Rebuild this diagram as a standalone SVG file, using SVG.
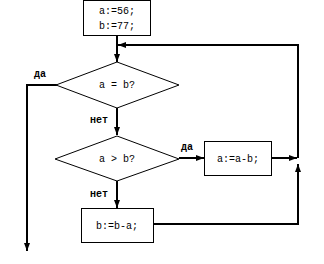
<svg xmlns="http://www.w3.org/2000/svg" width="324" height="264" viewBox="0 0 324 264">
<defs>
<style>
.box{fill:#fff;stroke:#000;stroke-width:1}
.dia{fill:#fff;stroke:#000;stroke-width:1}
.con{fill:none;stroke:#000;stroke-width:2}
.t{font-family:"Liberation Mono","Courier New",monospace;font-size:10px;fill:#000;text-anchor:middle}
.lb{font-family:"Liberation Mono","Courier New",monospace;font-size:10px;font-weight:bold;fill:#000}
</style>
<marker id="ah" viewBox="0 0 8 6" refX="8" refY="3" markerWidth="4" markerHeight="3" orient="auto" markerUnits="strokeWidth">
<path d="M0,0 L8,3 L0,6 Z" fill="#000"/>
</marker>
</defs>
<rect width="324" height="264" fill="#fff"/>
<g id="connectors">
<path class="con" d="M117,35 V62" marker-end="url(#ah)"/>
<path class="con" d="M298,158 V45 H118" marker-end="url(#ah)"/>
<path class="con" d="M57,85 H27 V251" marker-end="url(#ah)"/>
<path class="con" d="M117,108 V135" marker-end="url(#ah)"/>
<path class="con" d="M179,158 H204" marker-end="url(#ah)"/>
<path class="con" d="M272,158 H297" marker-end="url(#ah)"/>
<path class="con" d="M117,181 V208" marker-end="url(#ah)"/>
<path class="con" d="M154,224 H298 V164" marker-end="url(#ah)"/>
</g>
<g id="start">
<rect class="box" x="83.5" y="0.5" width="67" height="35"/>
<text class="t" x="117" y="14">a:=56;</text>
<text class="t" x="117" y="29">b:=77;</text>
</g>
<g id="cond1">
<polygon class="dia" points="117,62 179,85 117,108 56,85"/>
<text class="t" x="117" y="88">a = b?</text>
</g>
<g id="cond2">
<polygon class="dia" points="117,136 179,159 117,181 55,159"/>
<text class="t" x="117" y="162">a &gt; b?</text>
</g>
<g id="opA">
<rect class="box" x="204.5" y="141.5" width="67" height="34"/>
<text class="t" x="238" y="162">a:=a-b;</text>
</g>
<g id="opB">
<rect class="box" x="81.5" y="208.5" width="72" height="34"/>
<text class="t" x="117" y="229">b:=b-a;</text>
</g>
<g id="labels">
<text class="lb" x="34" y="77">да</text>
<text class="lb" x="90" y="123">нет</text>
<text class="lb" x="181" y="150">да</text>
<text class="lb" x="90" y="197">нет</text>
</g>
</svg>
